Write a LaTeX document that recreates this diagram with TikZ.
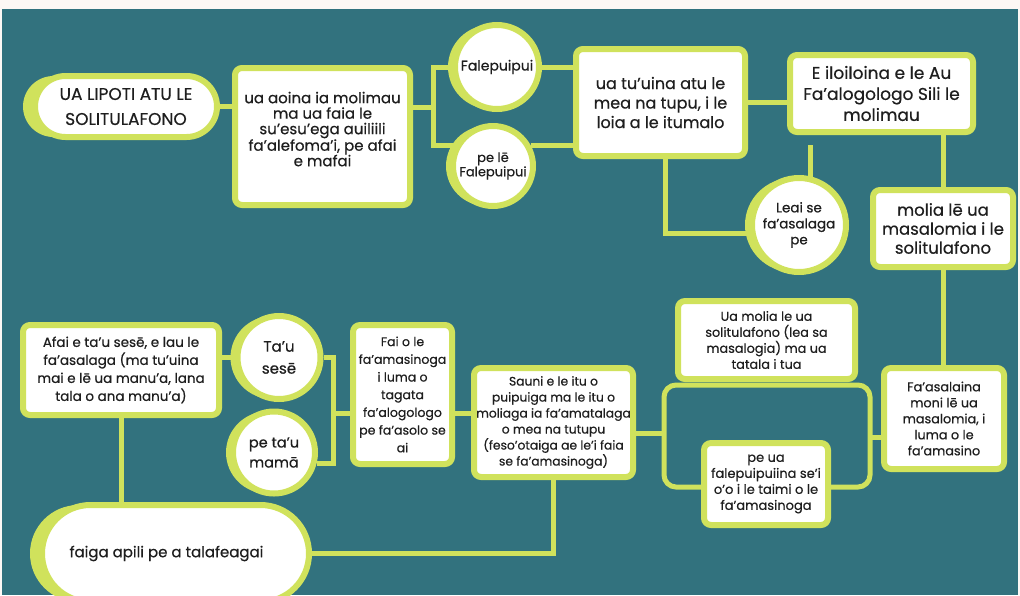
\documentclass[tikz,border=0pt]{standalone}
\usepackage{fontspec}
\setmainfont{Poppins}[FakeBold=0.5]
\usetikzlibrary{shapes.misc,backgrounds}
\definecolor{teal0}{RGB}{50,114,126}
\definecolor{lime0}{RGB}{208,226,92}
\definecolor{paper}{RGB}{253,248,245}
\definecolor{ink}{RGB}{30,30,30}
\newcommand\fsz[2]{\fontsize{#1}{#2}\selectfont}
\tikzset{
 conn/.style={draw=lime0, line width=5pt},
 box/.style={draw=lime0, fill=white, line width=6pt, rounded corners=7pt, align=center, text=ink, inner sep=0pt},
 circ/.style={circle, draw=lime0, fill=white, line width=6pt, align=center, text=ink, inner sep=0pt,
   preaction={fill=lime0, transform canvas={xshift=-7pt}}},
 pill/.style={rounded rectangle, draw=lime0, fill=white, line width=6pt, align=center, text=ink, inner sep=0pt,
   preaction={fill=lime0, transform canvas={xshift=-12pt}}},
}
\begin{document}
\begin{tikzpicture}[x=1pt,y=-1pt]
\useasboundingbox (0,0) rectangle (1020,595);
% nodes
\node[pill, minimum width=182pt, minimum height=61pt, font=\fsz{17}{25}] (p1) at (126,106.5) {UA LIPOTI ATU LE\\SOLITULAFONO};
\node[box, minimum width=175pt, minimum height=137pt, font=\fsz{15}{15.5}, text depth=15pt] (b2) at (322.5,136.5) {ua aoina ia molimau\\ma ua faia le\\su’esu’ega auiliili\\fa’alefoma’i, pe afai\\e mafai};
\node[circ, minimum size=84pt, font=\fsz{14}{15}] (c1) at (497,67) {Falepuipui};
\node[circ, minimum size=80pt, font=\fsz{13}{13}] (c2) at (493,166) {pe lē\\Falepuipui};
\node[box, minimum width=169pt, minimum height=107pt, font=\fsz{16}{19.5}] (b3) at (660.5,102.5) {ua tu’uina atu le\\mea na tupu, i le\\loia a le itumalo};
\node[box, minimum width=183pt, minimum height=77pt, font=\fsz{17}{21}] (b4) at (881.5,93.5) {E iloiloina e le Au\\Fa’alogologo Sili le\\molimau};
\node[circ, minimum size=94pt, font=\fsz{13.5}{16}] (c3) at (799,225) {Leai se\\fa’asalaga\\pe};
\node[box, minimum width=140pt, minimum height=77pt, font=\fsz{16.5}{19}] (b5) at (943,228.5) {molia lē ua\\masalomia i le\\solitulafono};
\node[box, minimum width=120pt, minimum height=101pt, font=\fsz{12.8}{16}] (b6) at (944,418.5) {Fa’asalaina\\moni lē ua\\masalomia, i\\luma o le\\fa’amasino};
\node[box, minimum width=177pt, minimum height=78pt, font=\fsz{12.8}{16}] (b8) at (766.5,340) {Ua molia le ua\\solitulafono (lea sa\\masalogia) ma ua\\tatala i tua};
\node[box, minimum width=124pt, minimum height=82pt, font=\fsz{13}{16}] (b9) at (766,484) {pe ua\\falepuipuiina se’i\\o’o i le taimi o le\\fa’amasinoga};
\node[box, minimum width=159pt, minimum height=109pt, font=\fsz{12.3}{16}] (b7) at (553.5,422.5) {Sauni e le itu o\\puipuiga ma le itu o\\moliaga ia fa’amatalaga\\o mea na tutupu\\(feso’otaiga ae le’i faia\\se fa’amasinoga)};
\node[box, minimum width=99pt, minimum height=139pt, font=\fsz{12.5}{17.7}] (b10) at (402.5,394.5) {Fai o le\\fa’amasinoga\\i luma o\\tagata\\fa’alogologo\\pe fa’asolo se\\ai};
\node[box, minimum width=196pt, minimum height=90pt, font=\fsz{13.5}{18}] (b11) at (121,370) {Afai e ta’u sesē, e lau le\\fa’asalaga (ma tu’uina\\mai e lē ua manu’a, lana\\tala o ana manu’a)};
\node[circ, minimum size=83pt, font=\fsz{15}{22}] (c4) at (279,357.5) {Ta’u\\sesē};
\node[circ, minimum size=82pt, font=\fsz{14.5}{20}] (c5) at (274,452.5) {pe ta’u\\mamā};
\node[pill, minimum width=267pt, minimum height=97pt, font=\fsz{15}{18}] (p2) at (175.5,553.5) {faiga apili pe a talafeagai\hspace*{18pt}};
% junctions
\coordinate (j1) at (433,107);
\coordinate (s1) at (810,145);
\coordinate (k1) at (664,385);
\coordinate (k2) at (870,487);
\coordinate (k3) at (870,437);
\coordinate (k4) at (664,433);
\coordinate (j2) at (333,413);
\begin{pgfonlayer}{background}
\fill[paper] (0,0) rectangle (1020,595);
\fill[teal0] (2,9) rectangle (1018,595);
\draw[conn] (p1.east) -- (p1.east -| b2.west);
\draw[conn] (j1 -| b2.east) -- (j1);
\draw[conn] (c1.west) -| (j1) |- (c2.151);
\draw[conn] (c1.east) -- (c1.east -| b3.west);
\draw[conn] (c2.29) -- (c2.29 -| b3.west);
\draw[conn] (b3.east) -- (b3.east -| b4.west);
\draw[conn] ([xshift=4.5pt]b3.south) |- (c3.190);
\draw[conn] (s1) -- (s1 |- c3.center);
\draw[conn] (b5.north |- b4.south) -- (b5.north);
\draw[conn] (b5.south) -- (b5.south |- b6.north);
\draw[conn, rounded corners=12pt] (k1) rectangle (k2);
\draw[conn] (k3) -- (k3 -| b6.west);
\draw[conn] (k4) -- (k4 -| b7.east);
\draw[conn] (c4.east) -| (j2) |- (c5.-14);
\draw[conn] (j2) -- (j2 -| b10.west);
\draw[conn] (j2 -| b10.east) -- (j2 -| b7.west);
\draw[conn] (c4.west) -- (c4.west -| b11.east);
\draw[conn] (b11.south) -- (b11.south |- p2.north);
\draw[conn] (b7.south) |- (p2.east);
\end{pgfonlayer}
\end{tikzpicture}
\end{document}
